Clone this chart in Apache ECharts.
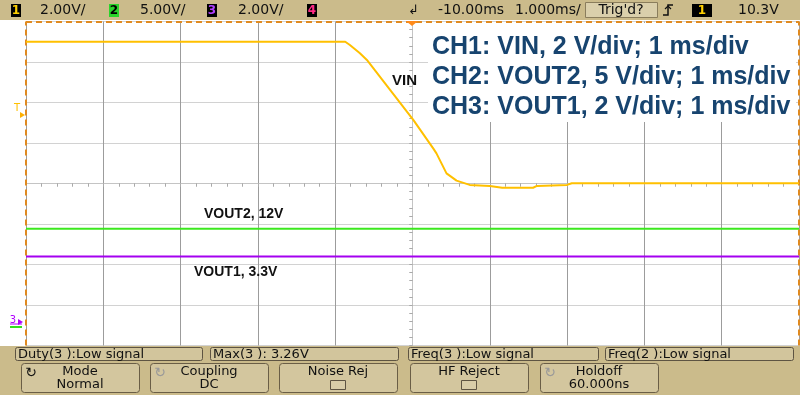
<!DOCTYPE html>
<html>
<head>
<meta charset="utf-8">
<script src="https://cdn.jsdelivr.net/npm/echarts@6/dist/echarts.min.js"></script>
<style>html,body{margin:0;padding:0;background:#fff}#c{width:810px;height:400px}</style>
</head>
<body>
<div id="c"></div>
<script>
// ---- data (time in ms relative to screen centre, volts) ----
const vinTime = [-5, -0.87, -0.81, -0.68, -0.59, -0.29, 0.01, 0.27, 0.31, 0.44, 0.57, 0.74, 1.0, 1.16, 1.56, 1.61, 2.0, 2.06, 5];
const vinVolt = [13.9, 13.9, 13.74, 13.33, 13.0, 11.52, 10.04, 8.62, 8.39, 7.40, 7.04, 6.83, 6.78, 6.69, 6.69, 6.78, 6.83, 6.91, 6.91];
const vout2Time = [-5, 5];
const vout2Volt = [12.0, 12.0];
const vout1Time = [-5, 5];
const vout1Volt = [3.26, 3.26];
// channel scale labels (top bar)
const chScales = ['2.00V/', '5.00V/', '2.00V/'];
const timeLabels = ['-10.00ms', '1.000ms/'];
const trigLevel = '10.3V';
const annotations = ['CH1: VIN, 2 V/div; 1 ms/div', 'CH2: VOUT2, 5 V/div; 1 ms/div', 'CH3: VOUT1, 2 V/div; 1 ms/div'];
const measRow = ['Duty(3 ):Low signal', 'Max(3 ): 3.26V', 'Freq(3 ):Low signal', 'Freq(2 ):Low signal'];

const zip = (a, b) => a.map((v, i) => [v, b[i]]);

const FONT = 'DejaVu Sans';
const TAN = '#cbbb8b';
const graphics = [];
function txt(x, y, s, o) {
  o = o || {};
  graphics.push({
    type: 'text', x: x, y: y, z: 100, silent: true,
    style: {
      text: s, fill: o.fill || '#111',
      fontSize: o.size || 13, fontFamily: o.family || FONT, fontWeight: o.weight || 'normal',
      textAlign: o.align || 'left', align: o.align || 'left',
      textVerticalAlign: 'middle', verticalAlign: 'middle'
    }
  });
}
function rect(x, y, w, h, fill, stroke, r, z) {
  graphics.push({
    type: 'rect', z: z || 90, silent: true,
    shape: { x: x, y: y, width: w, height: h, r: r || 0 },
    style: { fill: fill, stroke: stroke || null, lineWidth: stroke ? 1 : 0 }
  });
}

// top bar
rect(0, 0, 800, 20, TAN);
rect(11, 4, 10, 13, '#000'); txt(16, 10.5, '1', { fill: '#ffd000', align: 'center', size: 12, weight: 'bold' });
txt(40, 10.5, chScales[0], { size: 14 });
rect(109, 4, 10, 13, '#2ad42a'); txt(114, 10.5, '2', { fill: '#000', align: 'center', size: 12, weight: 'bold' });
txt(140, 10.5, chScales[1], { size: 14 });
rect(207, 4, 10, 13, '#000'); txt(212, 10.5, '3', { fill: '#b040ff', align: 'center', size: 12, weight: 'bold' });
txt(238, 10.5, chScales[2], { size: 14 });
rect(307, 4, 10, 13, '#000'); txt(312, 10.5, '4', { fill: '#ff2a86', align: 'center', size: 12, weight: 'bold' });
txt(408, 11, '\u21B2', { size: 13 });
txt(438, 10.5, timeLabels[0], { size: 14 });
txt(515, 10.5, timeLabels[1], { size: 14 });
rect(585.5, 2.5, 72, 15, '#dacfab', '#8a7d5c', 0);
txt(621, 10.5, "Trig'd?", { size: 14, align: 'center' });
graphics.push({ type: 'polyline', z: 100, silent: true, shape: { points: [[663, 15], [668, 15], [668, 5], [673, 5]] }, style: { stroke: '#111', lineWidth: 1.5, fill: null } });
graphics.push({ type: 'polyline', z: 100, silent: true, shape: { points: [[665, 9], [668, 6], [671, 9]] }, style: { stroke: '#111', lineWidth: 1.2, fill: null } });
rect(692, 4, 20, 13, '#000'); txt(702, 10.5, '1', { fill: '#ffd000', align: 'center', size: 12, weight: 'bold' });
txt(738, 10.5, trigLevel, { size: 14 });

// trigger position marker & channel markers
graphics.push({ type: 'polygon', z: 100, silent: true, shape: { points: [[406, 21], [418, 21], [412, 26]] }, style: { fill: '#ff8a1a' } });
txt(17, 108, 'T', { fill: '#ffc000', size: 10, align: 'center' });
graphics.push({ type: 'polygon', z: 100, silent: true, shape: { points: [[20, 112], [25, 115], [20, 118]] }, style: { fill: '#ffb000' } });
txt(13, 320, '3', { fill: '#b000ff', size: 10, align: 'center' });
graphics.push({ type: 'polyline', z: 100, silent: true, shape: { points: [[10, 324], [22, 324]] }, style: { stroke: '#b000ff', lineWidth: 1 } });
graphics.push({ type: 'polygon', z: 100, silent: true, shape: { points: [[18, 319], [23, 322], [18, 325]] }, style: { fill: '#b000ff' } });
graphics.push({ type: 'polyline', z: 100, silent: true, shape: { points: [[10, 327], [22, 327]] }, style: { stroke: '#33dd22', lineWidth: 2 } });

// annotation box
rect(428, 23, 368, 99, '#ffffff', null, 0, 20);
annotations.forEach((s, i) => txt(432, 47 + i * 30, s, { size: 25, family: 'Liberation Sans', weight: 'bold', fill: '#17446f' }));
txt(392, 81, 'VIN', { size: 15, family: 'Liberation Sans', weight: 'bold', fill: '#111' });
txt(204, 214, 'VOUT2, 12V', { size: 14, family: 'Liberation Sans', weight: 'bold', fill: '#111' });
txt(194, 272, 'VOUT1, 3.3V', { size: 14, family: 'Liberation Sans', weight: 'bold', fill: '#111' });

// bottom panel
rect(0, 346, 800, 49, TAN);
const measX = [[15, 187], [210, 188], [408, 190], [605, 188]];
measRow.forEach((s, i) => {
  rect(measX[i][0] + 0.5, 347.5, measX[i][1], 13, '#d2c59c', '#5e5442', 2);
  txt(measX[i][0] + 3, 354.5, s, { size: 13 });
});
const btns = [[21, 'Mode', 'Normal', '#111'], [150, 'Coupling', 'DC', '#999'], [279, 'Noise Rej', null], [410, 'HF Reject', null], [540, 'Holdoff', '60.000ns', '#999']];
btns.forEach(b => {
  const x = b[0];
  rect(x + 0.5, 363.5, 118, 29, '#d3c69e', '#6a5e46', 3);
  if (b[2]) {
    const cx = x + 59;
    txt(cx, 372, b[1], { size: 13, align: 'center' });
    txt(cx, 385, b[2], { size: 13, align: 'center' });
    txt(x + 10, 373, '\u21BB', { size: 14, fill: b[3], align: 'center' });
  } else {
    txt(x + 59, 372, b[1], { size: 13, align: 'center' });
    rect(x + 51.5, 380.5, 15, 9, '#d9cda8', '#5e5442', 0);
  }
});

const chart = echarts.init(document.getElementById('c'), null, { renderer: 'canvas' });
const divAxisCommon = {
  type: 'value', min: -4, max: 4, interval: 1,
  axisLabel: { show: false }
};
chart.setOption({
  animation: false,
  backgroundColor: '#ffffff',
  grid: { left: 26, top: 21.5, width: 773, height: 324, containLabel: false },
  xAxis: [
    {
      type: 'value', min: -5, max: 5, interval: 1,
      axisLabel: { show: false },
      axisLine: { show: true, onZero: true, onZeroAxisIndex: 0, lineStyle: { color: '#c4c4c4', width: 1 } },
      axisTick: { show: true, length: 3, lineStyle: { color: '#aaa' } },
      minorTick: { show: true, splitNumber: 5, length: 3, lineStyle: { color: '#aaa' } },
      splitLine: { show: true, lineStyle: { color: '#9c9c9c', width: 1 } }
    },
    {
      type: 'value', min: -5, max: 5, interval: 1, position: 'top',
      axisLabel: { show: false },
      axisLine: { show: false, onZero: true, onZeroAxisIndex: 0 },
      axisTick: { show: true, inside: true, length: 3, lineStyle: { color: '#aaa' } },
      minorTick: { show: true, splitNumber: 5, length: 3, lineStyle: { color: '#aaa' } },
      splitLine: { show: false }
    }
  ],
  yAxis: [
    Object.assign({}, divAxisCommon, {
      axisLine: { show: true, onZero: true, onZeroAxisIndex: 0, lineStyle: { color: '#c4c4c4', width: 1 } },
      axisTick: { show: true, length: 3, lineStyle: { color: '#aaa' } },
      minorTick: { show: true, splitNumber: 5, length: 3, lineStyle: { color: '#aaa' } },
      splitLine: { show: true, lineStyle: { color: '#d2d2d2', width: 1 } }
    }),
    { type: 'value', min: -1.1, max: 14.9, show: false },
    { type: 'value', min: -2.4, max: 37.6, show: false },
    { type: 'value', min: -1.14, max: 14.86, show: false },
    Object.assign({}, divAxisCommon, {
      position: 'right',
      axisLine: { show: false, onZero: true, onZeroAxisIndex: 0 },
      axisTick: { show: true, inside: true, length: 3, lineStyle: { color: '#aaa' } },
      minorTick: { show: true, splitNumber: 5, length: 3, lineStyle: { color: '#aaa' } },
      splitLine: { show: false }
    })
  ],
  series: [
    {
      name: 'VIN', type: 'line', xAxisIndex: 0, yAxisIndex: 1, data: zip(vinTime, vinVolt),
      showSymbol: false, lineStyle: { color: '#ffc000', width: 2 }, itemStyle: { color: '#ffc000' }, z: 5
    },
    {
      name: 'VOUT2', type: 'line', xAxisIndex: 0, yAxisIndex: 2, data: zip(vout2Time, vout2Volt),
      showSymbol: false, lineStyle: { color: '#3be81e', width: 2 }, itemStyle: { color: '#3be81e' }, z: 5
    },
    {
      name: 'VOUT1', type: 'line', xAxisIndex: 0, yAxisIndex: 3, data: zip(vout1Time, vout1Volt),
      showSymbol: false, lineStyle: { color: '#a400f0', width: 2 }, itemStyle: { color: '#a400f0' }, z: 5
    },
    {
      name: 'border', type: 'line', xAxisIndex: 0, yAxisIndex: 0, data: [], z: 30,
      markLine: {
        silent: true, symbol: 'none', label: { show: false },
        lineStyle: { color: '#e08a20', type: [6, 4], width: 2 },
        data: [{ xAxis: -5 }, { xAxis: 5 }, { yAxis: 4 }]
      }
    }
  ],
  graphic: graphics
});
</script>
</body>
</html>
